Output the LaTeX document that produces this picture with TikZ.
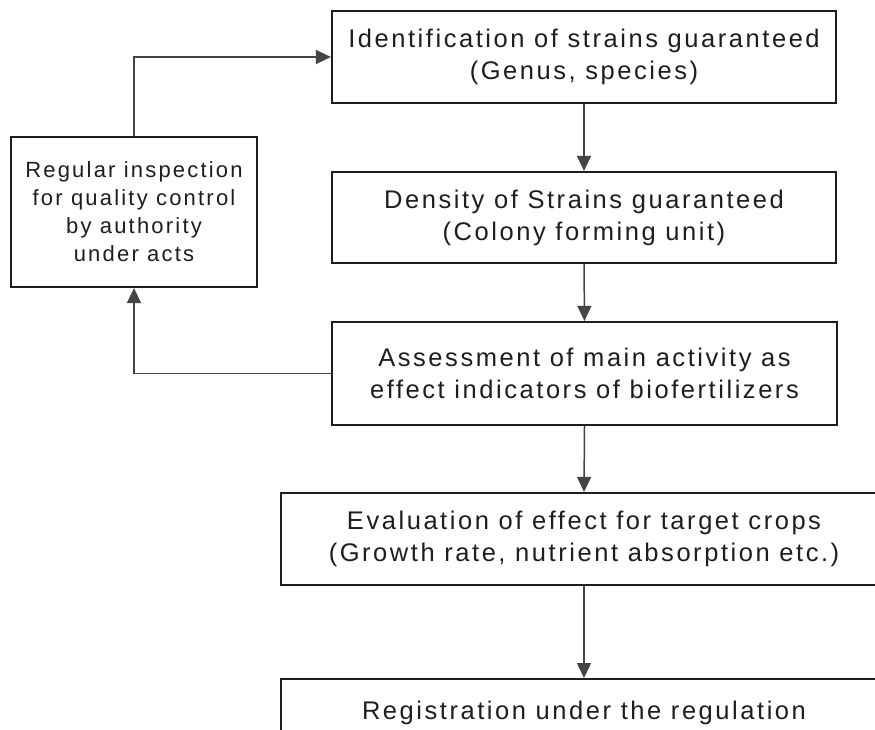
\documentclass[tikz,border=0pt]{standalone}
\usepackage{fontspec}
\setmainfont[LetterSpace=10]{Liberation Sans}
\usetikzlibrary{arrows.meta}
\definecolor{ink}{RGB}{30,30,30}
\definecolor{wire}{RGB}{68,68,68}
\tikzset{
  stage/.style={draw=ink,line width=2.2pt,fill=white,minimum width=504pt,minimum height=92pt,align=center,inner sep=0pt,text=ink,font=\fontsize{25.5}{32}\selectfont},
  audit/.style={stage,minimum width=246pt,minimum height=150pt,font=\fontsize{22}{28}\selectfont},
  arr/.style={-{Triangle[length=15pt,width=14pt]},draw=wire,line width=1.5pt}
}

\begin{document}
\begin{tikzpicture}[x=1pt,y=-1pt]
  \clip (0,0) rectangle (875,729);
  \fill[white] (0,0) rectangle (875,729);
  \node[stage] (ident) at (584,57) {Identification of strains guaranteed\\(Genus, species)};
  \node[stage,minimum height=91pt] (density) at (584,217.5) {Density of Strains guaranteed\\(Colony forming unit)};
  \node[stage,minimum width=505pt,minimum height=103pt] (assess) at (584.5,373.5) {Assessment of main activity as\\effect indicators of biofertilizers};
  \node[stage,minimum width=606pt] (evaluate) at (584,539) {Evaluation of effect for target crops\\(Growth rate, nutrient absorption etc.)};
  \node[stage,minimum width=606pt,minimum height=0pt,anchor=north,text height=18.6pt,text depth=60pt,inner ysep=21.5pt] (regist) at (584,678) {Registration under the regulation};
  \node[audit] (inspect) at (134,212) {Regular inspection\\for quality control\\by authority\\under acts};
  \draw[arr] (ident.south) -- (density.north);
  \draw[arr] (density.south) -- (assess.north);
  \draw[arr] (assess.south) -- (evaluate.north);
  \draw[arr] (evaluate.south) -- (regist.north);
  \draw[arr] (assess.west) -| (inspect.south);
  \draw[arr] (inspect.north) |- (ident.west);
\end{tikzpicture}
\end{document}
